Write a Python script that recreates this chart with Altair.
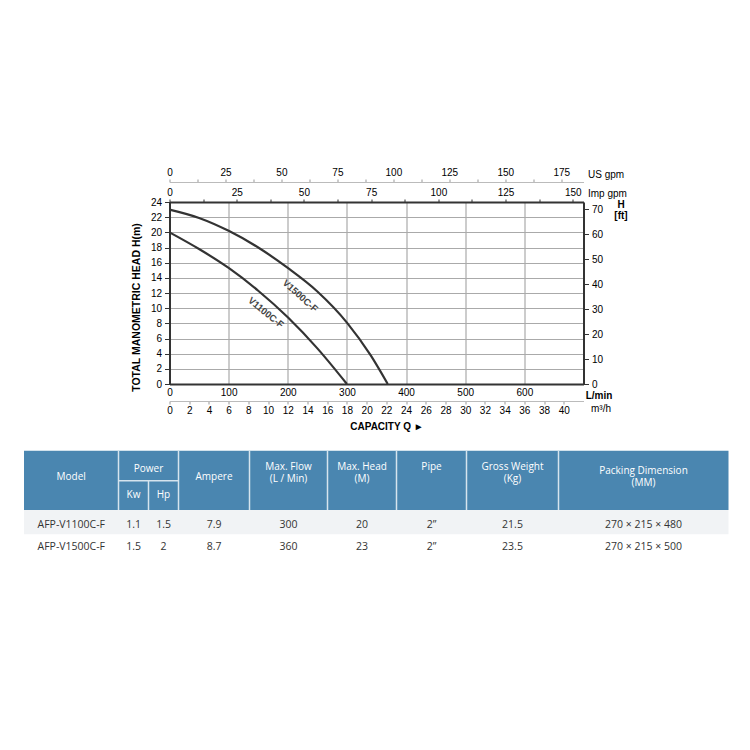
import altair as alt
import pandas as pd

# ---------------- data ----------------
CURVE_NAMES = ["V1100C-F", "V1500C-F"]
V1100_Q = [0, 50, 100, 150, 200, 250, 300]            # L/min
V1100_H = [20.0, 17.8, 15.3, 12.3, 8.8, 4.7, 0.0]     # m
V1500_Q = [0, 50, 100, 150, 200, 250, 300, 340, 369]
V1500_H = [23.0, 21.9, 20.2, 18.0, 15.3, 12.2, 8.1, 3.8, 0.0]
LABEL_Q = [163, 221]
LABEL_H = [9.4, 11.6]
LABEL_ANGLE = [39, 42]

LMIN_TICKS = [0, 100, 200, 300, 400, 500, 600]
M3H_TICKS = [0, 2, 4, 6, 8, 10, 12, 14, 16, 18, 20, 22, 24, 26, 28, 30, 32, 34, 36, 38, 40]
H_TICKS = [0, 2, 4, 6, 8, 10, 12, 14, 16, 18, 20, 22, 24]
FT_TICKS = [0, 10, 20, 30, 40, 50, 60, 70]
USGPM_TICKS = [0, 12.5, 25, 37.5, 50, 62.5, 75, 87.5, 100, 112.5, 125, 137.5, 150, 162.5, 175]
IMPGPM_TICKS = [0, 12.5, 25, 37.5, 50, 62.5, 75, 87.5, 100, 112.5, 125, 137.5, 150]

Q_MAX = 700          # L/min at right border
H_MAX = 24           # m at top border
FT_TOP = 72.8        # ft value at the top border (as drawn)
LMIN_PER_USGPM = 3.785
LMIN_PER_IMPGPM = 4.546
LMIN_PER_M3H = 16.667

# table
MODELS = ["AFP-V1100C-F", "AFP-V1500C-F"]
KW = ["1.1", "1.5"]
HP = ["1.5", "2"]
AMPERE = ["7.9", "8.7"]
MAX_FLOW = ["300", "360"]
MAX_HEAD = ["20", "23"]
PIPE = ["2\u201d", "2\u201d"]
WEIGHT = ["21.5", "23.5"]
DIMS = ["270 \u00d7 215 \u00d7 480", "270 \u00d7 215 \u00d7 500"]

# ---------------- layout ----------------
W, H = 414, 182
FONT = "Liberation Sans"
TFONT = "Open Sans"
INK = "#333333"
TXT = "#444444"
GRID = "#aaaaaa"
BLUE = "#4a86b0"

TABLE_EDGES = [0, 94.5, 124.5, 154.5, 225.5, 303.5, 372.5, 442.5, 534.5, 704.5]
TABLE_X_RANGE = [-145.5, 559]
TABLE_Y_RANGE = [248.7, 356.7]
HEADER_BOTTOM = 59.3
ROW1_BOTTOM = 83.5
POWER_SPLIT = 30
ROW_Y = [74.0, 96.0]

def cx(c0, c1=None):
    c1 = c0 if c1 is None else c1
    return (TABLE_EDGES[c0] + TABLE_EDGES[c1 + 1]) / 2

# ---------------- chart: curves + main axes ----------------
curve_df = pd.DataFrame({
    "q": V1100_Q + V1500_Q,
    "h": V1100_H + V1500_H,
    "model": [CURVE_NAMES[0]] * len(V1100_Q) + [CURVE_NAMES[1]] * len(V1500_Q),
})
xs = alt.Scale(domain=[0, Q_MAX])
ys = alt.Scale(domain=[0, H_MAX])

curves = alt.Chart(curve_df).mark_line(
    color=INK, strokeWidth=2.2, interpolate="monotone"
).encode(
    x=alt.X("q:Q", scale=xs, axis=alt.Axis(
        orient="bottom", values=LMIN_TICKS, grid=True, gridColor=GRID, gridWidth=1.2,
        domainColor=INK, domainWidth=2, ticks=False, labelPadding=3,
        labelFlush=False, labelOverlap=False,
        title="L/min", titleX=429, titleY=11, titleAngle=0, titleAlign="center",
        titleBaseline="middle", titleFontWeight="bold", titleFontSize=10)),
    y=alt.Y("h:Q", scale=ys, axis=alt.Axis(
        orient="left", values=H_TICKS, grid=True, gridColor=GRID, gridWidth=1.2,
        domainColor=INK, domainWidth=2, tickColor=INK, tickSize=5, labelPadding=3,
        labelOverlap=False,
        title="TOTAL  MANOMETRIC HEAD  H(m)", titleY=105, titlePadding=9,
        titleFontWeight="bold", titleFontSize=10.5)),
    detail="model:N",
)

label_df = pd.DataFrame({"q": LABEL_Q, "h": LABEL_H, "t": CURVE_NAMES, "a": LABEL_ANGLE})
labels = alt.Chart(label_df).mark_text(
    font=FONT, fontSize=9.5, fontWeight="bold", color=TXT
).encode(
    x=alt.X("q:Q", scale=xs, axis=None),
    y=alt.Y("h:Q", scale=ys, axis=None),
    text="t:N",
    angle=alt.Angle("a:Q", scale=None),
)

# right ft axis
ft_layer = alt.Chart(pd.DataFrame({"ft": FT_TICKS})).mark_point(opacity=0).encode(
    y=alt.Y("ft:Q", scale=alt.Scale(domain=[0, FT_TOP]), axis=alt.Axis(
        orient="right", values=FT_TICKS, grid=False, domainColor=INK, domainWidth=2,
        tickColor=INK, tickSize=5, labelPadding=3, labelOverlap=False,
        title=["H", "[ft]"], titleAngle=0, titleX=37, titleY=-3, titleAlign="center",
        titleBaseline="top", titleLineHeight=11, titleFontWeight="bold", titleFontSize=10)),
)

# top Imp gpm axis (top border)
imp_layer = alt.Chart(pd.DataFrame({"g": IMPGPM_TICKS})).mark_point(opacity=0).encode(
    x=alt.X("g:Q", scale=alt.Scale(domain=[0, Q_MAX / LMIN_PER_IMPGPM]), axis=alt.Axis(
        orient="top", values=IMPGPM_TICKS, domainColor=INK, domainWidth=2,
        tickColor=INK, tickSize=3, labelPadding=2, labelFlush=False, labelOverlap=False,
        labelExpr="datum.value % 25 === 0 ? datum.label : ''",
        title="Imp gpm", titleX=418, titleY=-9, titleAngle=0, titleAlign="left",
        titleBaseline="middle", titleFontWeight="normal", titleFontSize=10)),
)

# top US gpm axis (offset)
us_layer = alt.Chart(pd.DataFrame({"g": USGPM_TICKS})).mark_point(opacity=0).encode(
    x=alt.X("g:Q", scale=alt.Scale(domain=[0, Q_MAX / LMIN_PER_USGPM]), axis=alt.Axis(
        orient="top", offset=20, values=USGPM_TICKS, domainColor="#bbbbbb", domainWidth=1,
        tickColor="#999999", tickSize=3, labelPadding=2, labelFlush=False, labelOverlap=False,
        labelExpr="datum.value % 25 === 0 ? datum.label : ''",
        title="US gpm", titleX=418, titleY=-8, titleAngle=0, titleAlign="left",
        titleBaseline="middle", titleFontWeight="normal", titleFontSize=10)),
)

# bottom m3/h axis (offset)
m3_layer = alt.Chart(pd.DataFrame({"m": M3H_TICKS})).mark_point(opacity=0).encode(
    x=alt.X("m:Q", scale=alt.Scale(domain=[0, Q_MAX / LMIN_PER_M3H]), axis=alt.Axis(
        orient="bottom", offset=17, values=M3H_TICKS, domainColor="#bbbbbb", domainWidth=1,
        tickColor="#999999", tickSize=3, labelPadding=1, labelFlush=False, labelOverlap=False,
        title="m\u00b3/h", titleX=431, titleY=7, titleAngle=0, titleAlign="center",
        titleBaseline="middle", titleFontWeight="normal", titleFontSize=10)),
)

# capacity title
cap_layer = alt.Chart(pd.DataFrame({"m": [0]})).mark_point(opacity=0).encode(
    x=alt.X("m:Q", scale=alt.Scale(domain=[0, 1]), axis=alt.Axis(
        orient="bottom", domain=False, ticks=False, labels=False, grid=False,
        title="CAPACITY  Q \u25ba", titleX=217, titleY=42, titleAngle=0, titleAlign="center",
        titleBaseline="middle", titleFontWeight="bold", titleFontSize=10)),
)

# ---------------- table ----------------
txs = alt.Scale(domain=[0, TABLE_EDGES[-1]], range=TABLE_X_RANGE)
tys = alt.Scale(domain=[0, 108], range=TABLE_Y_RANGE)

bg_df = pd.DataFrame({
    "x0": [0, 0], "x1": [TABLE_EDGES[-1], TABLE_EDGES[-1]],
    "y0": [0, HEADER_BOTTOM], "y1": [HEADER_BOTTOM, ROW1_BOTTOM],
    "kind": ["header", "row"],
})
bg = alt.Chart(bg_df).mark_rect().encode(
    x=alt.X("x0:Q", scale=txs, axis=None), x2="x1:Q",
    y=alt.Y("y0:Q", scale=tys, axis=None), y2="y1:Q",
    color=alt.Color("kind:N", scale=alt.Scale(domain=["header", "row"], range=[BLUE, "#f1f3f5"]), legend=None),
)

vdiv = [1, 3, 4, 5, 6, 7, 8]
div_df = pd.DataFrame({
    "x0": [TABLE_EDGES[i] for i in vdiv] + [TABLE_EDGES[2], TABLE_EDGES[1]],
    "x1": [TABLE_EDGES[i] for i in vdiv] + [TABLE_EDGES[2], TABLE_EDGES[3]],
    "y0": [0] * len(vdiv) + [POWER_SPLIT, POWER_SPLIT],
    "y1": [HEADER_BOTTOM] * len(vdiv) + [HEADER_BOTTOM, POWER_SPLIT],
})
dividers = alt.Chart(div_df).mark_rule(color="#d6e4ee", strokeWidth=1.5).encode(
    x=alt.X("x0:Q", scale=txs, axis=None), x2="x1:Q",
    y=alt.Y("y0:Q", scale=tys, axis=None), y2="y1:Q",
)

head_rows = [
    ("Model", cx(0), 25.8),
    ("Power", cx(1, 2), 18.0),
    ("Kw", cx(1), 44.5),
    ("Hp", cx(2), 44.5),
    ("Ampere", cx(3), 25.8),
    ("Max. Flow\n(L / Min)", cx(4), 16.5),
    ("Max. Head\n(M)", cx(5), 16.5),
    ("Pipe", cx(6), 16.5),
    ("Gross Weight\n(Kg)", cx(7), 16.5),
    ("Packing Dimension\n(MM)", cx(8), 20.5),
]
head_df = pd.DataFrame(head_rows, columns=["t", "x", "y"])
head_text = alt.Chart(head_df).mark_text(
    font=TFONT, fontSize=10, color="white", baseline="middle", lineBreak="\n", lineHeight=11.5
).encode(
    x=alt.X("x:Q", scale=txs, axis=None),
    y=alt.Y("y:Q", scale=tys, axis=None),
    text="t:N",
)

cols = [MODELS, KW, HP, AMPERE, MAX_FLOW, MAX_HEAD, PIPE, WEIGHT, DIMS]
body_rows = []
for r in range(len(MODELS)):
    for c, col in enumerate(cols):
        body_rows.append((col[r], cx(c), ROW_Y[r]))
body_df = pd.DataFrame(body_rows, columns=["t", "x", "y"])
body_text = alt.Chart(body_df).mark_text(
    font=TFONT, fontSize=10.5, color="#333333", baseline="middle"
).encode(
    x=alt.X("x:Q", scale=txs, axis=None),
    y=alt.Y("y:Q", scale=tys, axis=None),
    text="t:N",
)

chart = alt.layer(
    curves, labels, ft_layer, imp_layer, us_layer, m3_layer, cap_layer,
    bg, dividers, head_text, body_text,
).resolve_scale(
    x="independent", y="independent", color="independent"
).properties(
    width=W, height=H,
    padding={"left": 15.5, "top": 159, "right": 10, "bottom": 10},
).configure_view(
    stroke=None
).configure_axis(
    labelFont=FONT, titleFont=FONT, labelFontSize=10, labelColor=TXT, titleColor=TXT,
).configure(background="white")

chart.save("out.html", embed_options={"renderer": "svg", "actions": False})
